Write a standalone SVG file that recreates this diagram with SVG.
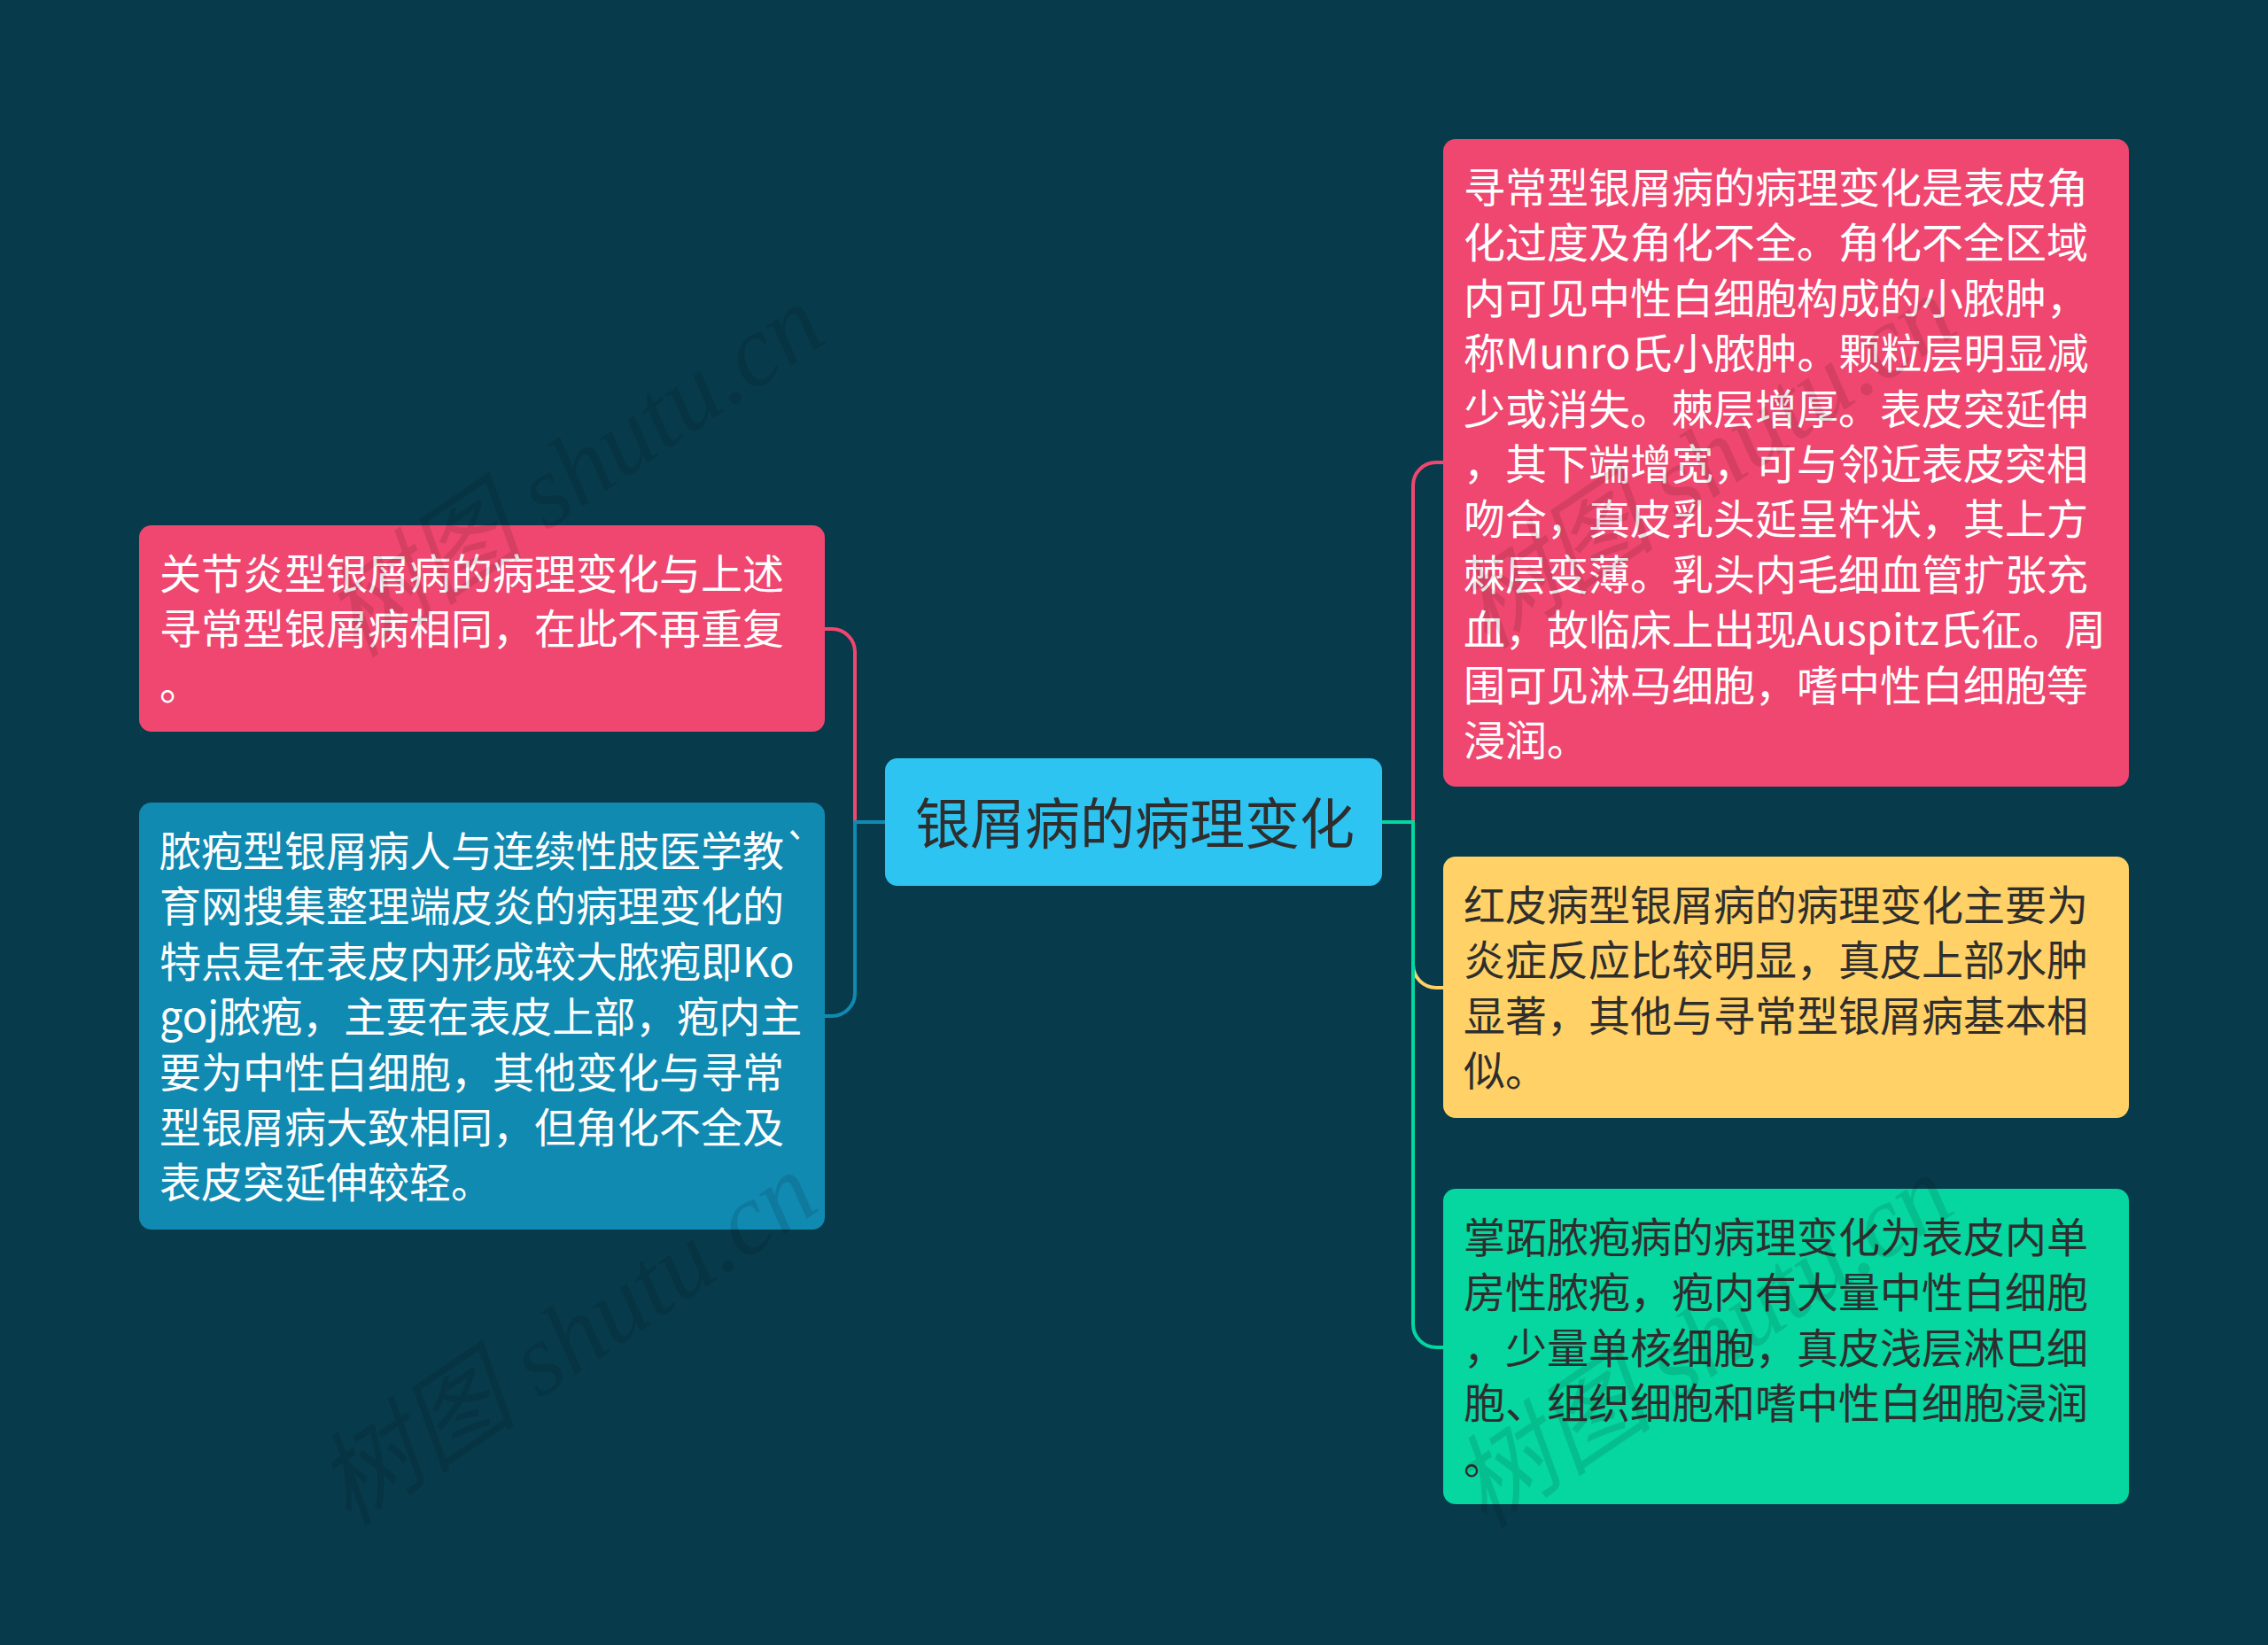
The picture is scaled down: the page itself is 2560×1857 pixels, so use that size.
<svg xmlns="http://www.w3.org/2000/svg" width="2560" height="1857" viewBox="0 0 2560 1857">
  <defs>
    <style>
      .bg { fill: #073B4C; }
      .box { rx: 14px; ry: 14px; }
      .t { font-family: "Noto Sans CJK SC", "Noto Sans", sans-serif; font-size: 47px; dominant-baseline: central; }
      .w { fill: #FFFFFF; }
      .d { fill: #2E2E2E; }
      .conn { fill: none; stroke-width: 4; stroke-linejoin: round; }
      .wm { font-family: "Liberation Serif", "Noto Sans CJK SC", serif; font-style: italic; font-size: 115px; fill: #000000; fill-opacity: 0.11; text-anchor: middle; dominant-baseline: central; }
    </style>
  </defs>
  <rect class="bg" x="0" y="0" width="2560" height="1857"/>

  <g id="connectors">
    <path class="conn" stroke="#EF476F" d="M999 928 H965 V736 A26 26 0 0 0 939 710 H931"/>
    <path class="conn" stroke="#118AB2" d="M999 928 H965 V1121 A26 26 0 0 1 939 1147 H931"/>
    <path class="conn" stroke="#EF476F" d="M1559 928 H1595 V548 A26 26 0 0 1 1621 522 H1629"/>
    <path class="conn" stroke="#FFD166" d="M1559 928 H1595 V1089 A26 26 0 0 0 1621 1115 H1629"/>
    <path class="conn" stroke="#06D6A0" d="M1559 928 H1595 V1495 A26 26 0 0 0 1621 1521 H1629"/>
  </g>

  <g id="node-center">
    <rect class="box" x="999" y="856" width="561" height="144" rx="15" fill="#2EC4F2"/>
    <text class="d" x="1281" y="926" font-family="Noto Sans CJK SC, sans-serif" font-size="62" text-anchor="middle" dominant-baseline="central">银屑病的病理变化</text>
  </g>

  <g id="node-left-1">
    <rect class="box" x="157" y="593" width="774" height="233" fill="#EF476F"/>
    <text class="t w" x="180" transform="translate(0 -3)">
      <tspan x="180" y="647">关节炎型银屑病的病理变化与上述</tspan>
      <tspan x="180" y="709.4">寻常型银屑病相同，在此不再重复</tspan>
      <tspan x="180" y="771.8">。</tspan>
    </text>
  </g>

  <g id="node-left-2">
    <rect class="box" x="157" y="906" width="774" height="482" fill="#118AB2"/>
    <text class="t w" x="180" transform="translate(0 -3)">
      <tspan x="180" y="960">脓疱型银屑病人与连续性肢医学教`</tspan>
      <tspan x="180" y="1022.4">育网搜集整理端皮炎的病理变化的</tspan>
      <tspan x="180" y="1084.8">特点是在表皮内形成较大脓疱即Ko</tspan>
      <tspan x="180" y="1147.2">goj脓疱，主要在表皮上部，疱内主</tspan>
      <tspan x="180" y="1209.6">要为中性白细胞，其他变化与寻常</tspan>
      <tspan x="180" y="1272">型银屑病大致相同，但角化不全及</tspan>
      <tspan x="180" y="1334.4">表皮突延伸较轻。</tspan>
    </text>
  </g>

  <g id="node-right-1">
    <rect class="box" x="1629" y="157" width="774" height="731" fill="#EF476F"/>
    <text class="t w" x="1652" transform="translate(0 -3)">
      <tspan x="1652" y="211">寻常型银屑病的病理变化是表皮角</tspan>
      <tspan x="1652" y="273.4">化过度及角化不全。角化不全区域</tspan>
      <tspan x="1652" y="335.8">内可见中性白细胞构成的小脓肿，</tspan>
      <tspan x="1652" y="398.2">称Munro氏小脓肿。颗粒层明显减</tspan>
      <tspan x="1652" y="460.6">少或消失。棘层增厚。表皮突延伸</tspan>
      <tspan x="1652" y="523">，其下端增宽，可与邻近表皮突相</tspan>
      <tspan x="1652" y="585.4">吻合，真皮乳头延呈杵状，其上方</tspan>
      <tspan x="1652" y="647.8">棘层变薄。乳头内毛细血管扩张充</tspan>
      <tspan x="1652" y="710.2">血，故临床上出现Auspitz氏征。周</tspan>
      <tspan x="1652" y="772.6">围可见淋马细胞，嗜中性白细胞等</tspan>
      <tspan x="1652" y="835">浸润。</tspan>
    </text>
  </g>

  <g id="node-right-2">
    <rect class="box" x="1629" y="967" width="774" height="295" fill="#FFD166"/>
    <text class="t d" x="1652" transform="translate(0 -3)">
      <tspan x="1652" y="1021">红皮病型银屑病的病理变化主要为</tspan>
      <tspan x="1652" y="1083.4">炎症反应比较明显，真皮上部水肿</tspan>
      <tspan x="1652" y="1145.8">显著，其他与寻常型银屑病基本相</tspan>
      <tspan x="1652" y="1208.2">似。</tspan>
    </text>
  </g>

  <g id="node-right-3">
    <rect class="box" x="1629" y="1342" width="774" height="356" fill="#06D6A0"/>
    <text class="t d" x="1652" transform="translate(0 -3)">
      <tspan x="1652" y="1396">掌跖脓疱病的病理变化为表皮内单</tspan>
      <tspan x="1652" y="1458.4">房性脓疱，疱内有大量中性白细胞</tspan>
      <tspan x="1652" y="1520.8">，少量单核细胞，真皮浅层淋巴细</tspan>
      <tspan x="1652" y="1583.2">胞、组织细胞和嗜中性白细胞浸润</tspan>
      <tspan x="1652" y="1645.6">。</tspan>
    </text>
  </g>

  <g id="watermarks">
    <text class="wm" transform="translate(648 532) rotate(-34)">树图 shutu.cn</text>
    <text class="wm" transform="translate(640 1512) rotate(-34)">树图 shutu.cn</text>
    <text class="wm" transform="translate(1925 522) rotate(-34)">树图 shutu.cn</text>
    <text class="wm" transform="translate(1922 1515) rotate(-34)">树图 shutu.cn</text>
  </g>
</svg>
